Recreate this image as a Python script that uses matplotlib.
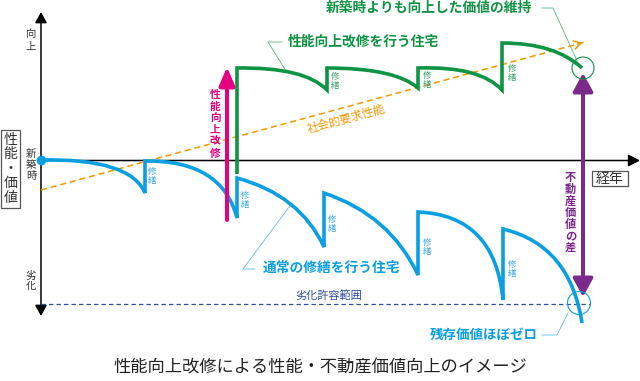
import matplotlib
matplotlib.use("Agg")
import matplotlib.pyplot as plt
from matplotlib.path import Path
from matplotlib.patches import PathPatch, FancyArrowPatch, ArrowStyle, Circle, Rectangle

plt.rcParams['font.family'] = ['Noto Sans CJK JP', 'DejaVu Sans']

# --- picture values (pixel space of a 640x381 canvas) ---
blue_starts = [(41, 160), (145, 161), (237, 178), (324, 193), (418, 212), (503, 229)]
blue_ctrls = [(130, 158), (222, 160), (300, 195), (390, 215), (495, 215), (570, 245)]
blue_ends = [(145, 193), (237, 218), (324, 247), (418, 275), (503, 300), (582, 323)]

green_base = (237, 174)
green_starts = [(237, 68), (327, 68), (418, 68), (502, 43)]
green_ctrls = [(305, 67), (395, 68), (480, 66), (555, 43)]
green_ends = [(327, 90), (418, 88), (502, 90), (582, 68)]

blue_repair_x = [152, 245, 332, 427, 512]
blue_repair_y = [176, 200, 224, 247, 269]
green_repair_x = [335, 427, 512]
green_repair_y = [81, 80, 73]

social_line = [(41, 190), (585, 42)]
limit_y = 304

BLUE = "#0a9fe3"
GREEN = "#0f9444"
MAGENTA = "#e4007f"
PURPLE = "#7b2a8c"
ORANGE = "#f39800"
NAVY = "#2f4fa6"
DARK = "#333333"

fig = plt.figure(figsize=(6.4, 3.81), dpi=100)
ax = fig.add_axes([0, 0, 1, 1])
ax.set_xlim(0, 640)
ax.set_ylim(381, 0)
ax.axis("off")


def vtext(x, y0, s, step, **kw):
    for i, ch in enumerate(s):
        ax.text(x, y0 + i * step, ch, ha="center", va="center", **kw)


def arrow(a, b, style, lw, color, z=3):
    ax.add_patch(FancyArrowPatch(a, b, arrowstyle=style, mutation_scale=1, lw=lw,
                                 color=color, shrinkA=0, shrinkB=0, zorder=z))


# axes
arrow((41, 316), (41, 12), ArrowStyle("<|-|>", head_length=6.5, head_width=3.6), 1.1, "black", 1)
arrow((41, 160.5), (640, 160.5), ArrowStyle("-|>", head_length=7, head_width=3.6), 1.1, "black", 1)

# axis texts
vtext(31, 33.5, "向上", 13, fontsize=7.5, color=DARK)
vtext(31, 153.5, "新築時", 11.3, fontsize=7.5, color=DARK)
vtext(31, 275.5, "劣化", 10.5, fontsize=7.5, color=DARK)
ax.add_patch(Rectangle((1, 130), 19, 78, fill=True, fc="white", ec="#555555", lw=0.9, zorder=2))
vtext(10.5, 140, "性能・価値", 14.4, fontsize=10, color=DARK, zorder=3)
ax.add_patch(Rectangle((592, 171), 36, 15, fill=True, fc="white", ec="#555555", lw=0.9, zorder=2))
ax.text(610, 178.5, "経年", ha="center", va="center", fontsize=10, color=DARK, zorder=3)

# social requirement (orange dashed)
(sx0, sy0), (sx1, sy1) = social_line
ax.plot([sx0, sx1], [sy0, sy1], color=ORANGE, lw=1.1, dashes=(4, 2.5), zorder=2)
ax.annotate("", xy=(sx1, sy1), xytext=(sx1 - 10, sy1 + 2.7),
            arrowprops=dict(arrowstyle="->,head_length=0.5,head_width=0.3", color=ORANGE, lw=1.1))
ax.text(346, 119, "社会的要求性能", rotation=15.2, rotation_mode="anchor", ha="center",
        va="center", fontsize=8.3, color=ORANGE)

# limit line
ax.plot([41, 590], [limit_y, limit_y], color=NAVY, lw=0.9, dashes=(3.5, 2.5), zorder=2)
ax.text(329, 295, "劣化許容範囲", ha="center", va="center", fontsize=8, color=NAVY)

# blue curve
verts, codes = [blue_starts[0]], [Path.MOVETO]
for i in range(len(blue_starts)):
    if i > 0:
        verts.append(blue_starts[i]); codes.append(Path.LINETO)
    verts += [blue_ctrls[i], blue_ends[i]]; codes += [Path.CURVE3, Path.CURVE3]
ax.add_patch(PathPatch(Path(verts, codes), fill=False, ec=BLUE, lw=2.6,
                       capstyle="butt", joinstyle="miter", zorder=3))
ax.plot(*blue_starts[0], "o", ms=6, color=BLUE, zorder=4)

# green curve
verts, codes = [green_base], [Path.MOVETO]
for i in range(len(green_starts)):
    verts.append(green_starts[i]); codes.append(Path.LINETO)
    verts += [green_ctrls[i], green_ends[i]]; codes += [Path.CURVE3, Path.CURVE3]
ax.add_patch(PathPatch(Path(verts, codes), fill=False, ec=GREEN, lw=2.6,
                       capstyle="butt", joinstyle="miter", zorder=3))

# repair labels
for x, y in zip(blue_repair_x, blue_repair_y):
    vtext(x, y - 4.5, "修繕", 9, fontsize=6, color="#3aa8e0")
for x, y in zip(green_repair_x, green_repair_y):
    vtext(x, y - 4.5, "修繕", 9, fontsize=6, color="#3a9f66")

# magenta arrow
arrow((227, 220), (227, 67), ArrowStyle("-|>", head_length=11, head_width=4.7), 2.9, MAGENTA, 4)
vtext(215, 95, "性能向上改修", 11.7, fontsize=7.7, color=MAGENTA, fontweight="bold")

# purple double arrow
arrow((583, 297), (583, 73), ArrowStyle("<|-|>", head_length=11, head_width=6), 2.9, PURPLE, 4)
vtext(570.5, 177.8, "不動産価値の差", 11.6, fontsize=8.1, color=PURPLE, fontweight="bold")

# circles
ax.add_patch(Circle((583, 68), 11, fill=False, ec=GREEN, lw=0.8, zorder=5))
ax.add_patch(Circle((579, 303), 11.5, fill=False, ec=BLUE, lw=0.8, zorder=5))

# leaders and labels
ax.plot([542, 553, 579], [8, 8, 65], color="#55b57f", lw=0.6)
ax.plot([282, 268, 286], [42, 42, 71], color="#55b57f", lw=0.6)
ax.plot([292, 243, 255], [203, 269, 269], color="#5cbdec", lw=0.6)
ax.plot([542, 557, 568], [335, 335, 313], color="#5cbdec", lw=0.6)
ax.text(326, 8, "新築時よりも向上した価値の維持", ha="left", va="center", fontsize=9.9,
        color=GREEN, fontweight="bold")
ax.text(288, 41, "性能向上改修を行う住宅", ha="left", va="center", fontsize=9.9,
        color=GREEN, fontweight="bold")
ax.text(263, 268, "通常の修繕を行う住宅", ha="left", va="center", fontsize=9.9,
        color=BLUE, fontweight="bold")
ax.text(430, 335, "残存価値ほぼゼロ", ha="left", va="center", fontsize=9.7,
        color=BLUE, fontweight="bold")

# caption
ax.text(320, 368, "性能向上改修による性能・不動産価値向上のイメージ", ha="center", va="center",
        fontsize=12.4, color="#222222")

fig.savefig("out.png", dpi=100)
